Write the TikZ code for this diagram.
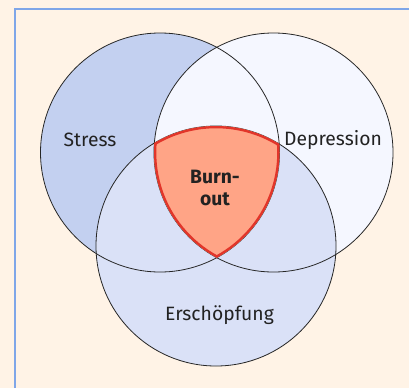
\documentclass[tikz,border=0pt]{standalone}
\usepackage{fontspec}
\setmainfont{Fira Sans}
\definecolor{bg}{HTML}{FFF3E6}
\definecolor{frame}{HTML}{7FA6E8}
\definecolor{stresscol}{HTML}{C3D0F0}
\definecolor{depcol}{HTML}{F5F7FF}
\definecolor{erscol}{HTML}{DAE1F7}
\definecolor{burncol}{HTML}{FFA486}
\definecolor{burnline}{HTML}{E2352A}
\definecolor{txt}{HTML}{222222}
\begin{document}
\begin{tikzpicture}[x=1pt,y=-1pt,
	lab/.style={text=txt,font=\fontsize{19.3}{21}\selectfont},
	rim/.style={draw=black!85,line width=0.8pt}]
	\fill[bg] (0,0) rectangle (409,388);
	\useasboundingbox (0,0) rectangle (409,388);
	\draw[frame,line width=2pt] (14.5,388) -- (14.5,8.5) -- (409,8.5);
	\coordinate (s) at (160,152.5);
	\coordinate (d) at (273.5,152.5);
	\coordinate (e) at (216,246);
	\fill[stresscol] (s) circle (119.5pt);
	\fill[depcol] (d) circle (119.5pt);
	\fill[erscol] (e) circle (120pt);
	\draw[rim] (s) circle (119.5pt);
	\draw[rim] (d) circle (119.5pt);
	\draw[rim] (e) circle (120pt);
	\begin{scope}
		\clip (s) circle (119.5pt);
		\clip (d) circle (119.5pt);
		\clip (e) circle (120pt);
		\fill[burncol] (e) circle (120pt);
		\draw[burnline,line width=4.6pt] (s) circle (119.5pt);
		\draw[burnline,line width=4.6pt] (d) circle (119.5pt);
		\draw[burnline,line width=4.6pt] (e) circle (120pt);
	\end{scope}
	\node[lab] (stress) at (90,140) {Stress};
	\node[lab] (depression) at (333,140) {Depression};
	\node[lab] (erschoepfung) at (219.5,315) {Erschöpfung};
	\node[lab,font=\fontsize{19.3}{22}\selectfont\bfseries,align=center] (burnout) at (215,188) {Burn-\\out};
\end{tikzpicture}
\end{document}
